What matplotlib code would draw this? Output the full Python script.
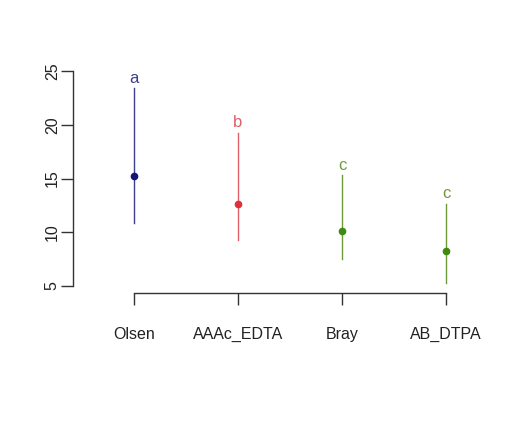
import matplotlib
matplotlib.use("Agg")
from matplotlib import pyplot as plt

methods = ["Olsen", "AAAc_EDTA", "Bray", "AB_DTPA"]
means = [15.2, 12.6, 10.1, 8.3]
lower = [10.9, 9.3, 7.5, 5.3]
upper = [23.4, 19.2, 15.3, 12.6]
letters = ["a", "b", "c", "c"]
letter_y = [24.35, 20.2, 16.25, 13.65]
line_colors = ["#3c3f8c", "#e0606a", "#6f9a3a", "#6f9a3a"]
point_colors = ["#14147a", "#e0303c", "#3f8a10", "#3f8a10"]

plt.rcParams['font.family'] = ['Liberation Sans Narrow', 'Liberation Sans', 'DejaVu Sans']

fig = plt.figure(figsize=(5.3, 4.29), dpi=100)
ax = fig.add_axes([0.1377, 0.317, 0.819, 0.543])

x = list(range(1, len(methods) + 1))
for i in range(len(methods)):
    ax.plot([x[i], x[i]], [lower[i], upper[i]], color=line_colors[i], lw=1.0)
    ax.plot(x[i], means[i], 'o', color=point_colors[i], ms=4.5)
    ax.text(x[i], letter_y[i], letters[i], color=line_colors[i], ha='center', va='center', fontsize=12)

ax.set_xlim(0.413, 4.587)
ax.set_ylim(4.35, 26.02)
ax.set_xticks(x)
ax.set_xticklabels(methods, fontsize=11.5)
ax.set_yticks([5, 10, 15, 20, 25])
ax.set_yticklabels(["5", "10", "15", "20", "25"], rotation=90, va='center', fontsize=11.5)

for s in ['top', 'right']:
    ax.spines[s].set_visible(False)
ax.spines['left'].set_bounds(5, 25)
ax.spines['bottom'].set_bounds(1, 4)
for s in ['left', 'bottom']:
    ax.spines[s].set_color('#333333')
    ax.spines[s].set_linewidth(1.0)
ax.tick_params(axis='both', length=8.5, width=1.0, color='#333333', labelcolor='#222222')
ax.tick_params(axis='x', pad=16)
ax.tick_params(axis='y', pad=1)

fig.savefig("out.png", dpi=100, facecolor='white')
